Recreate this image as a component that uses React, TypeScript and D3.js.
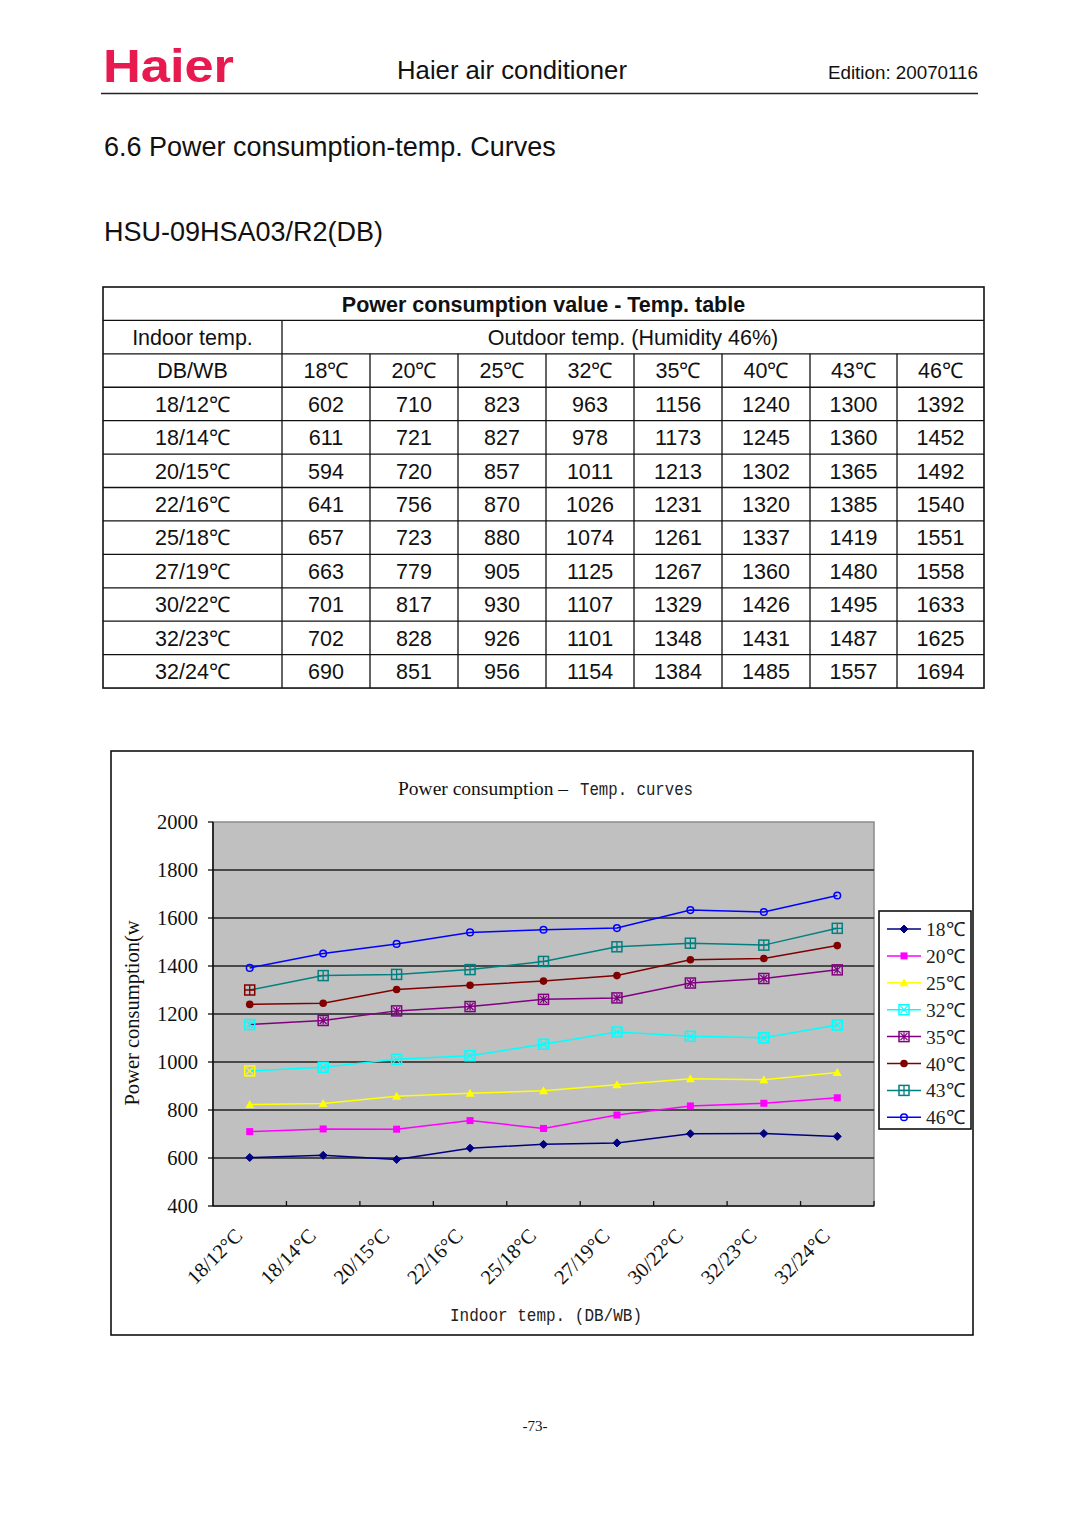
import React from "react";
import * as d3 from "d3";

const indoorTemps = ["18/12℃", "18/14℃", "20/15℃", "22/16℃", "25/18℃", "27/19℃", "30/22℃", "32/23℃", "32/24℃"];
const axisCategories = ["18/12°C", "18/14°C", "20/15°C", "22/16°C", "25/18°C", "27/19°C", "30/22°C", "32/23°C", "32/24°C"];
const outdoorTemps = ["18℃", "20℃", "25℃", "32℃", "35℃", "40℃", "43℃", "46℃"];
const s18 = [602, 611, 594, 641, 657, 663, 701, 702, 690];
const s20 = [710, 721, 720, 756, 723, 779, 817, 828, 851];
const s25 = [823, 827, 857, 870, 880, 905, 930, 926, 956];
const s32 = [963, 978, 1011, 1026, 1074, 1125, 1107, 1101, 1154];
const s35 = [1156, 1173, 1213, 1231, 1261, 1267, 1329, 1348, 1384];
const s40 = [1240, 1245, 1302, 1320, 1337, 1360, 1426, 1431, 1485];
const s43 = [1300, 1360, 1365, 1385, 1419, 1480, 1495, 1487, 1557];
const s46 = [1392, 1452, 1492, 1540, 1551, 1558, 1633, 1625, 1694];
const seriesValues = [s18, s20, s25, s32, s35, s40, s43, s46];
const seriesColors = ["#000080", "#FF00FF", "#FFFF00", "#00FFFF", "#800080", "#800000", "#008080", "#0000FF"];
const seriesMarkers = ["diamond", "square", "triangle", "boxX", "boxStar", "dot", "boxPlus", "circle"];
const firstMarkerColors = [null, null, null, "#FFFF00", "#00FFFF", null, "#800000", null];
const yTicks = [400, 600, 800, 1000, 1200, 1400, 1600, 1800, 2000];

const SERIF = "'Liberation Serif', 'Times New Roman', serif";
const MONO = "'Liberation Mono', 'Courier New', monospace";
const SANS = "'Liberation Sans', Arial, sans-serif";

function Marker({ type, x, y, color }: { type: string; x: number; y: number; color: string }) {
  const s = 5;
  switch (type) {
    case "diamond":
      return <path d={`M${x},${y - 4}L${x + 4},${y}L${x},${y + 4}L${x - 4},${y}Z`} fill={color} stroke={color} />;
    case "square":
      return <rect x={x - 3.5} y={y - 3.5} width={7} height={7} fill={color} />;
    case "triangle":
      return <path d={`M${x},${y - 4.5}L${x + 4.5},${y + 3.5}L${x - 4.5},${y + 3.5}Z`} fill={color} />;
    case "dot":
      return <circle cx={x} cy={y} r={3.8} fill={color} />;
    case "circle":
      return <circle cx={x} cy={y} r={3.3} fill="none" stroke={color} strokeWidth={1.5} />;
    case "boxX":
      return (
        <g stroke={color} strokeWidth={1.5} fill="none">
          <rect x={x - s} y={y - s} width={2 * s} height={2 * s} />
          <path d={`M${x - s + 1.5},${y - s + 1.5}L${x + s - 1.5},${y + s - 1.5}M${x + s - 1.5},${y - s + 1.5}L${x - s + 1.5},${y + s - 1.5}`} strokeWidth={1.2} />
        </g>
      );
    case "boxStar":
      return (
        <g stroke={color} strokeWidth={1.5} fill="none">
          <rect x={x - s} y={y - s} width={2 * s} height={2 * s} />
          <path d={`M${x - s + 1.5},${y - s + 1.5}L${x + s - 1.5},${y + s - 1.5}M${x + s - 1.5},${y - s + 1.5}L${x - s + 1.5},${y + s - 1.5}M${x},${y - s + 1}L${x},${y + s - 1}`} strokeWidth={1.3} />
        </g>
      );
    case "boxPlus":
      return (
        <g stroke={color} strokeWidth={1.5} fill="none">
          <rect x={x - s} y={y - s} width={2 * s} height={2 * s} />
          <path d={`M${x - s},${y}L${x + s},${y}M${x},${y - s}L${x},${y + s}`} strokeWidth={1.3} />
        </g>
      );
    default:
      return null;
  }
}

export default function App() {
  const W = 1080, H = 1527;
  const tX = [103, 282, 370, 458, 546, 634, 722, 810, 897, 984];
  const tTop = 287, rowH = 33.42;
  const nRows = 12;
  const rowY = (i: number) => tTop + i * rowH;

  const plotL = 213, plotR = 874, plotT = 822, plotB = 1206;
  const x = d3.scaleBand<string>().domain(indoorTemps).range([plotL, plotR]);
  const y = d3.scaleLinear().domain([400, 2000]).range([plotB, plotT]);
  const cx = (c: string) => (x(c) as number) + x.bandwidth() / 2;
  const line = d3.line<number>().x((_, i) => cx(indoorTemps[i])).y((v) => y(v));

  const tableHeader = ["DB/WB", ...outdoorTemps];

  return (
    <svg width={W} height={H} style={{ position: "absolute", left: 0, top: 0, background: "#fff" }}>
      {/* Header */}
      <text x={103} y={82} fontFamily={SANS} fontWeight="bold" fontSize={46} fill="#E8194F" textLength={131} lengthAdjust="spacingAndGlyphs">Haier</text>
      <text x={512} y={79} textAnchor="middle" fontFamily={SANS} fontSize={25.7} fill="#111">Haier air conditioner</text>
      <text x={978} y={79} textAnchor="end" fontFamily={SANS} fontSize={18.8} fill="#111">Edition: 20070116</text>
      <line x1={101} x2={978} y1={93.5} y2={93.5} stroke="#222" strokeWidth={1.5} />
      <text x={104} y={156} fontFamily={SANS} fontSize={27} fill="#111">6.6 Power consumption-temp. Curves</text>
      <text x={104} y={241} fontFamily={SANS} fontSize={27} fill="#111">HSU-09HSA03/R2(DB)</text>

      {/* Table */}
      <g stroke="#111" strokeWidth={1.3} fill="none">
        <rect x={tX[0]} y={tTop} width={tX[9] - tX[0]} height={rowH * nRows} strokeWidth={1.6} />
        {d3.range(1, nRows).map((i) => (
          <line key={i} x1={tX[0]} x2={tX[9]} y1={rowY(i)} y2={rowY(i)} />
        ))}
        <line x1={tX[1]} x2={tX[1]} y1={rowY(1)} y2={rowY(nRows)} />
        {tX.slice(2, 9).map((xx, i) => (
          <line key={i} x1={xx} x2={xx} y1={rowY(2)} y2={rowY(nRows)} />
        ))}
      </g>
      <g fontFamily={SANS} fontSize={21.5} fill="#111" textAnchor="middle">
        <text x={(tX[0] + tX[9]) / 2} y={rowY(0) + 24.5} fontWeight="bold">Power consumption value - Temp. table</text>
        <text x={(tX[0] + tX[1]) / 2} y={rowY(1) + 24.5}>Indoor temp.</text>
        <text x={(tX[1] + tX[9]) / 2} y={rowY(1) + 24.5}>Outdoor temp. (Humidity 46%)</text>
        {tableHeader.map((h, j) => (
          <text key={j} x={(tX[j] + tX[j + 1]) / 2} y={rowY(2) + 24.5}>{h}</text>
        ))}
        {indoorTemps.map((c, i) => (
          <g key={c}>
            <text x={(tX[0] + tX[1]) / 2} y={rowY(3 + i) + 24.5}>{c}</text>
            {seriesValues.map((s, j) => (
              <text key={j} x={(tX[j + 1] + tX[j + 2]) / 2} y={rowY(3 + i) + 24.5}>{s[i]}</text>
            ))}
          </g>
        ))}
      </g>

      {/* Chart frame */}
      <rect x={111} y={751} width={862} height={584} fill="#fff" stroke="#111" strokeWidth={1.6} />
      <text x={398} y={795} fontFamily={SERIF} fontSize={19.5} fill="#111">Power consumption –</text>
      <text x={580} y={795} fontFamily={MONO} fontSize={19} fill="#222" textLength={113} lengthAdjust="spacingAndGlyphs">Temp. curves</text>

      {/* Plot area */}
      <rect x={plotL} y={plotT} width={plotR - plotL} height={plotB - plotT} fill="#C0C0C0" stroke="#8a8a8a" strokeWidth={1.5} />
      {yTicks.slice(1, -1).map((t) => (
        <line key={t} x1={plotL} x2={plotR} y1={y(t)} y2={y(t)} stroke="#222" strokeWidth={1.3} />
      ))}
      <line x1={plotL} x2={plotL} y1={plotT} y2={plotB} stroke="#111" strokeWidth={1.6} />
      <line x1={plotL} x2={plotR} y1={plotB} y2={plotB} stroke="#111" strokeWidth={1.6} />
      {yTicks.map((t) => (
        <line key={t} x1={plotL - 5} x2={plotL} y1={y(t)} y2={y(t)} stroke="#111" strokeWidth={1.3} />
      ))}
      {indoorTemps.slice(1).map((c) => (
        <line key={c} x1={x(c) as number} x2={x(c) as number} y1={plotB} y2={plotB - 5} stroke="#111" strokeWidth={1.3} />
      ))}
      <line x1={plotR} x2={plotR} y1={plotB} y2={plotB - 5} stroke="#111" strokeWidth={1.3} />
      <g fontFamily={SERIF} fontSize={20.5} fill="#111" textAnchor="end">
        {yTicks.map((t) => (
          <text key={t} x={198} y={y(t) + 7}>{t}</text>
        ))}
      </g>
      <text transform={`translate(139,1013) rotate(-90)`} textAnchor="middle" fontFamily={SERIF} fontSize={20.5} fill="#111">Power consumption(w</text>
      <g fontFamily={SERIF} fontSize={20.5} fill="#111" textAnchor="end">
        {indoorTemps.map((c, i) => (
          <text key={c} transform={`translate(${cx(c) - 6},${1237}) rotate(-45)`}>{axisCategories[i]}</text>
        ))}
      </g>
      <text x={450} y={1321} fontFamily={MONO} fontSize={19} fill="#222" textLength={192} lengthAdjust="spacingAndGlyphs">Indoor temp. (DB/WB)</text>

      {/* Series */}
      {seriesValues.map((s, j) => (
        <g key={j}>
          <path d={line(s) as string} fill="none" stroke={seriesColors[j]} strokeWidth={1.5} />
          {s.map((v, i) => (
            <Marker key={i} type={seriesMarkers[j]} x={cx(indoorTemps[i])} y={y(v)} color={i === 0 && firstMarkerColors[j] ? (firstMarkerColors[j] as string) : seriesColors[j]} />
          ))}
        </g>
      ))}

      {/* Legend */}
      <rect x={879} y={911} width={92} height={218} fill="#fff" stroke="#111" strokeWidth={1.6} />
      {outdoorTemps.map((t, j) => {
        const ly = 929 + j * 26.9;
        return (
          <g key={t}>
            <line x1={887} x2={921} y1={ly} y2={ly} stroke={seriesColors[j]} strokeWidth={1.5} />
            <Marker type={seriesMarkers[j]} x={904} y={ly} color={seriesColors[j]} />
            <text x={926} y={ly + 7} fontFamily={SERIF} fontSize={19.5} fill="#222">{t}</text>
          </g>
        );
      })}

      <text x={535} y={1431} textAnchor="middle" fontFamily={SERIF} fontSize={15} fill="#111">-73-</text>
    </svg>
  );
}
